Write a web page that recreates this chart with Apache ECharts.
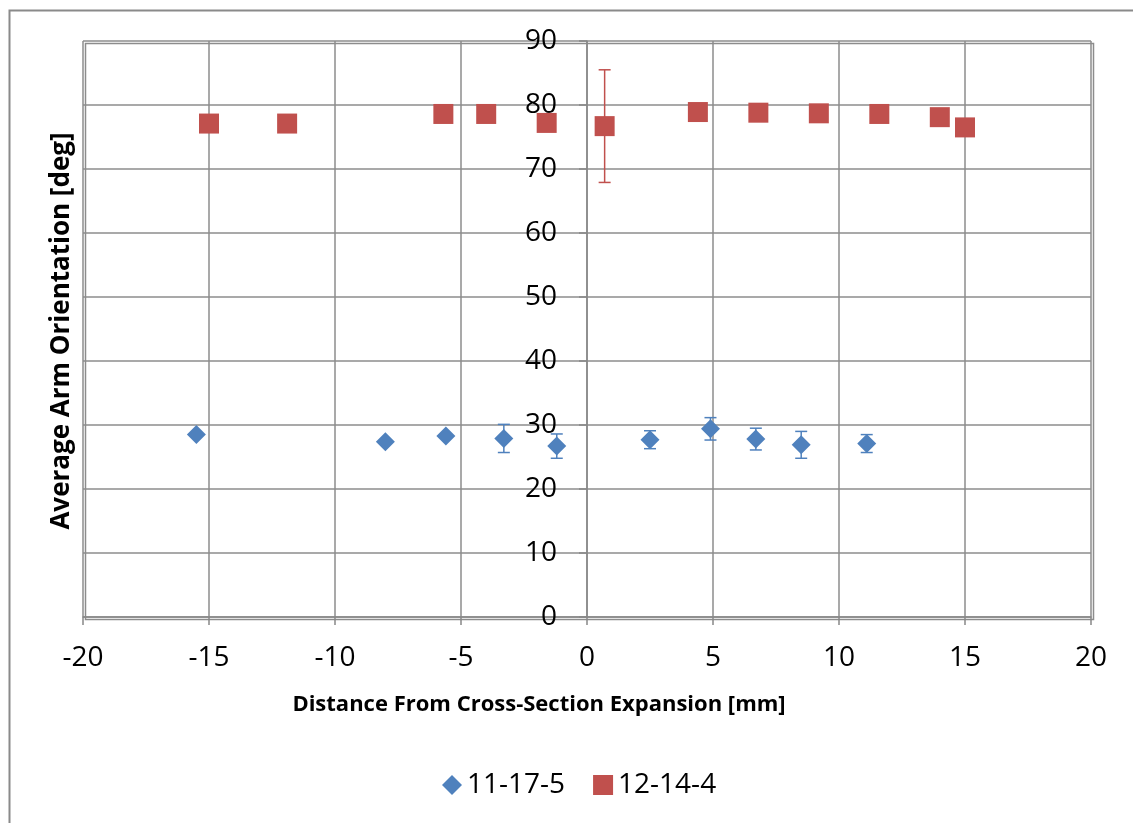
<!DOCTYPE html>
<html>
<head>
<meta charset="utf-8">
<script src="https://cdn.jsdelivr.net/npm/echarts@6/dist/echarts.min.js"></script>
<style>
  html, body { margin: 0; padding: 0; background: #fff; }
  #chart { width: 1133px; height: 823px; }
</style>
</head>
<body>
<div id="chart"></div>
<script>
// series 11-17-5 (blue diamonds)
const blueX = [-15.5, -8.0, -5.6, -3.3, -1.2, 2.5, 4.9, 6.7, 8.5, 11.1];
const blueY = [28.5, 27.4, 28.3, 27.9, 26.7, 27.7, 29.4, 27.8, 26.9, 27.1];
const blueErr = [0, 0, 0, 2.2, 1.9, 1.4, 1.75, 1.7, 2.1, 1.4];

// series 12-14-4 (red squares)
const redX = [-15.0, -11.9, -5.7, -4.0, -1.6, 0.7, 4.4, 6.8, 9.2, 11.6, 14.0, 15.0];
const redY = [77.1, 77.1, 78.6, 78.6, 77.2, 76.7, 78.9, 78.8, 78.7, 78.6, 78.1, 76.5];
const redErr = [0, 0, 0, 0, 0, 8.8, 0, 0, 0, 0, 0, 0];

const xTicks = { min: -20, max: 20, step: 5 };
const yTicks = { min: 0, max: 90, step: 10 };

const seriesNames = ['11-17-5', '12-14-4'];
const xTitle = 'Distance From Cross-Section Expansion [mm]';
const yTitle = 'Average Arm Orientation [deg]';
const blue = '#4F81BD';
const red = '#C0504D';

function pairs(xs, ys) {
  return xs.map((x, i) => [x, ys[i]]);
}
function errRows(xs, ys, es) {
  return xs.map((x, i) => [x, ys[i] - es[i], ys[i] + es[i]]).filter((r, i) => es[i] > 0);
}

function errorBar(color) {
  return function (params, api) {
    const lo = api.coord([api.value(0), api.value(1)]);
    const hi = api.coord([api.value(0), api.value(2)]);
    const cap = 6;
    const style = { stroke: color, lineWidth: 1.5 };
    return {
      type: 'group',
      children: [
        { type: 'line', shape: { x1: lo[0], y1: lo[1], x2: hi[0], y2: hi[1] }, style: style },
        { type: 'line', shape: { x1: lo[0] - cap, y1: lo[1], x2: lo[0] + cap, y2: lo[1] }, style: style },
        { type: 'line', shape: { x1: hi[0] - cap, y1: hi[1], x2: hi[0] + cap, y2: hi[1] }, style: style }
      ]
    };
  };
}

const font = '"Open Sans", "DejaVu Sans", sans-serif';
const gridLeft = 83, gridRight = 42, gridTop = 41, gridBottom = 206;
const plotW = 1133 - gridLeft - gridRight;
// the vertical axis crosses at x = 0, halfway across the plot
const yAxisShift = plotW * (0 - xTicks.min) / (xTicks.max - xTicks.min);

let myChart = echarts.init(document.getElementById('chart'));

const option = {
  animation: false,
  textStyle: { fontFamily: font },
  grid: { left: gridLeft, top: gridTop, right: gridRight, bottom: gridBottom },
  legend: {
    bottom: 19,
    left: 437,
    itemGap: 28,
    itemWidth: 20,
    itemHeight: 20,
    textStyle: { fontSize: 28, color: '#000', fontFamily: font },
    data: [
      { name: seriesNames[0], icon: 'diamond' },
      { name: seriesNames[1], icon: 'rect' }
    ]
  },
  xAxis: {
    type: 'value',
    min: xTicks.min,
    max: xTicks.max,
    interval: xTicks.step,
    axisLine: { show: true, onZero: false, lineStyle: { color: '#888', width: 1.5 } },
    axisTick: { show: true, length: 8, lineStyle: { color: '#888', width: 1.5 } },
    axisLabel: { fontSize: 28, color: '#000', margin: 27 },
    splitLine: { show: true, lineStyle: { color: '#8c8c8c', width: 1.5 } }
  },
  yAxis: {
    type: 'value',
    min: yTicks.min,
    max: yTicks.max,
    interval: yTicks.step,
    offset: -yAxisShift,
    axisLine: { show: true, onZero: false, lineStyle: { color: '#888', width: 1.5 } },
    axisTick: { show: true, length: 8, lineStyle: { color: '#888', width: 1.5 } },
    axisLabel: { fontSize: 28, color: '#000', margin: 30 },
    splitLine: { show: true, lineStyle: { color: '#8c8c8c', width: 1.5 } }
  },
  graphic: [
    {
      type: 'rect',
      left: 7, top: 8,
      shape: { width: 1140, height: 830 },
      style: { fill: 'none', stroke: '#8a8a8a', lineWidth: 2 },
      silent: true
    },
    {
      type: 'text',
      x: 62, y: 331,
      rotation: Math.PI / 2,
      style: {
        text: yTitle,
        font: 'bold 26px ' + font,
        fill: '#000',
        align: 'center',
        verticalAlign: 'middle'
      }
    },
    {
      type: 'text',
      x: 539, y: 705,
      style: {
        text: xTitle,
        font: 'bold 22px ' + font,
        fill: '#000',
        align: 'center',
        verticalAlign: 'middle'
      }
    },
    {
      type: 'rect',
      left: gridLeft, top: gridTop,
      shape: { width: plotW, height: 823 - gridTop - gridBottom },
      style: { fill: 'none', stroke: '#8c8c8c', lineWidth: 1.5 },
      silent: true
    }
  ],
  series: [
    {
      type: 'custom',
      renderItem: errorBar(blue),
      data: errRows(blueX, blueY, blueErr),
      encode: { x: 0, y: [1, 2] },
      z: 1,
      silent: true
    },
    {
      type: 'custom',
      renderItem: errorBar(red),
      data: errRows(redX, redY, redErr),
      encode: { x: 0, y: [1, 2] },
      z: 1,
      silent: true
    },
    {
      name: seriesNames[0],
      type: 'scatter',
      symbol: 'diamond',
      symbolSize: 19,
      itemStyle: { color: blue, opacity: 1 },
      data: pairs(blueX, blueY),
      z: 3
    },
    {
      name: seriesNames[1],
      type: 'scatter',
      symbol: 'rect',
      symbolSize: 20,
      itemStyle: { color: red, opacity: 1 },
      data: pairs(redX, redY),
      z: 3
    }
  ]
};

myChart.setOption(option);
window.onresize = function () {
  myChart.resize();
};
</script>
</body>
</html>
